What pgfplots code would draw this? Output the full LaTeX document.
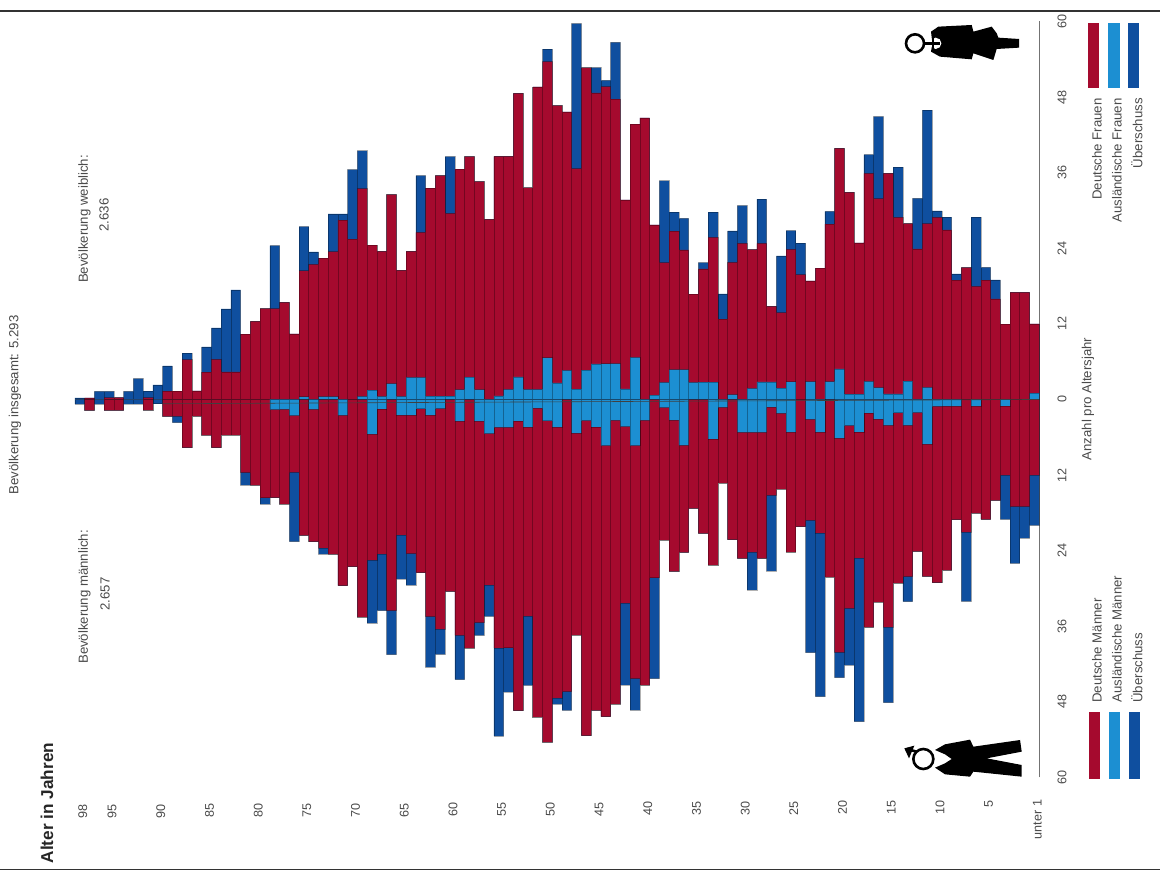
\documentclass[border=0pt]{standalone}
\usepackage{fontspec}
\setmainfont{Liberation Sans}
\usepackage{pgfplots}
\usepackage{pgfplotstable}
\pgfplotsset{compat=1.18}
\definecolor{drot}{HTML}{A50A2E}
\definecolor{hblau}{HTML}{1C8FD2}
\definecolor{dblau}{HTML}{0F4F9F}
\definecolor{schrift}{HTML}{4A4A4A}
% age, women: common part / total / foreign, men the same (negative)
\pgfplotstableread{
age wr wt wf mr mt mf
0 12 12 1 -12 -20 0
1 17 17 0 -17 -22 0
2 17 17 0 -17 -26 0
3 12 12 0 -12 -19 -1
4 16 19 0 -16 -16 0
5 19 21 0 -19 -19 0
6 18 29 0 -18 -18 -1
7 21 21 0 -21 -32 0
8 19 20 0 -19 -19 -1
9 27 29 0 -27 -27 -1
10 29 30 0 -29 -29 -1
11 28 46 2 -28 -28 -7
12 24 32 0 -24 -24 -2
13 28 28 3 -28 -32 -4
14 29 37 1 -29 -29 -2
15 36 36 1 -36 -48 -4
16 32 45 2 -32 -32 -3
17 36 39 3 -36 -36 -2
18 25 25 1 -25 -51 -5
19 33 33 1 -33 -42 -4
20 40 40 5 -40 -44 -6
21 28 30 3 -28 -28 0
22 21 21 0 -21 -47 -5
23 19 19 3 -19 -40 -3
24 20 25 0 -20 -20 0
25 24 27 3 -24 -24 -5
26 14 23 2 -14 -14 -2
27 15 15 3 -15 -27 -1
28 25 32 3 -25 -25 -5
29 24 24 2 -24 -30 -5
30 25 31 0 -25 -25 -5
31 22 27 1 -22 -22 0
32 13 17 0 -13 -13 -1
33 26 30 3 -26 -26 -6
34 21 22 3 -21 -21 0
35 17 17 3 -17 -17 0
36 24 29 5 -24 -24 -7
37 27 30 5 -27 -27 -3
38 22 35 3 -22 -22 -1
39 28 28 1 -28 -44 0
40 45 45 0 -45 -45 -3
41 44 44 7 -44 -49 -7
42 32 32 2 -32 -45 -4
43 48 57 6 -48 -48 -3
44 50 51 6 -50 -50 -7
45 49 53 6 -49 -49 -4
46 53 53 5 -53 -53 -3
47 37 60 2 -37 -37 -5
48 46 46 5 -46 -49 0
49 47 47 3 -47 -48 -4
50 54 56 7 -54 -54 -3
51 50 50 2 -50 -50 -1
52 34 34 2 -34 -45 -4
53 49 49 4 -49 -49 -3
54 39 39 2 -39 -46 -4
55 39 39 1 -39 -53 -4
56 29 29 0 -29 -34 -5
57 35 35 2 -35 -37 -3
58 39 39 4 -39 -39 0
59 37 37 2 -37 -44 -3
60 30 39 1 -30 -30 0
61 36 36 1 -36 -40 -1
62 34 34 1 -34 -42 -2
63 27 36 4 -27 -27 -1
64 24 24 4 -24 -29 -2
65 21 21 1 -21 -28 -2
66 33 33 3 -33 -40 0
67 24 24 1 -24 -33 -1
68 25 25 2 -25 -35 -5
69 34 40 1 -34 -34 0
70 26 37 0 -26 -26 0
71 29 30 0 -29 -29 -2
72 24 30 1 -24 -24 0
73 23 23 1 -23 -24 0
74 22 24 0 -22 -22 -1
75 21 28 1 -21 -21 0
76 11 11 0 -11 -22 -2
77 16 16 0 -16 -16 -1
78 15 25 0 -15 -15 -1
79 15 15 0 -15 -16 0
80 13 13 0 -13 -13 0
81 11 11 0 -11 -13 0
82 5 18 0 -5 -5 0
83 5 15 0 -5 -5 0
84 7 12 0 -7 -7 0
85 5 9 0 -5 -5 0
86 2 2 0 -2 -2 0
87 7 8 0 -7 -7 0
88 2 2 0 -2 -3 0
89 2 6 0 -2 -2 0
90 0 3 0 0 0 0
91 1 2 0 -1 -1 0
92 0 4 0 0 0 0
93 0 2 0 0 0 0
94 1 1 0 -1 -1 0
95 1 2 0 -1 -1 0
96 0 2 0 0 0 0
97 1 1 0 -1 -1 0
98 0 1 0 0 0 0
}\pyramide
\begin{document}
\begin{tikzpicture}[txt/.style={rotate=90,font=\fontsize{6.6}{8}\selectfont,text=schrift,inner sep=0pt}]
\path[use as bounding box] (0pt,0pt) rectangle (580pt,438pt);
\begin{axis}[
 anchor=origin,at={(517.2pt,238.25pt)},
 x={(-4.87pt,-0.0238pt)},y={(0pt,3.15pt)},
 xmin=-0.5,xmax=98.5,ymin=-60,ymax=60,
 axis y line*=right,axis x line*=bottom,
 x axis line style={draw=none,-},y axis line style={draw=black!55,-},
 tick align=outside,major tick length=4pt,
 x tick style={draw=none},y tick style={draw=black!55},
 xtick={0,5,10,15,20,25,30,35,40,45,50,55,60,65,70,75,80,85,90,95,98},
 xticklabels={unter 1,5,10,15,20,25,30,35,40,45,50,55,60,65,70,75,80,85,90,95,98},
 ytick={-60,-48,-36,-24,-12,0,12,24,36,48,60},
 yticklabels={60,48,36,24,12,0,12,24,36,48,60},
 xticklabel style={rotate=90,anchor=east,font=\fontsize{6.3}{8}\selectfont,text=schrift,inner sep=0pt,xshift=-7pt,yshift=-1.5pt},
 yticklabel style={rotate=90,anchor=north,font=\fontsize{6.3}{8}\selectfont,text=schrift,inner sep=0pt,yshift=-5pt},
 balken/.style={ybar,bar width=1,bar shift=0pt,draw=black,draw opacity=0.3,line width=0.3pt},
 ohnenull/.style={unbounded coords=discard,y filter/.expression={y==0?nan:y}},
 clip=false]
\addplot[balken,ohnenull,fill=dblau] table[x=age,y=wt] {\pyramide};
\addplot[balken,fill=dblau] table[x=age,y=mt] {\pyramide};
\addplot[balken,ohnenull,fill=drot] table[x=age,y=wr] {\pyramide};
\addplot[balken,ohnenull,fill=drot] table[x=age,y=mr] {\pyramide};
\addplot[balken,ohnenull,fill=hblau] table[x=age,y=wf] {\pyramide};
\addplot[balken,ohnenull,fill=hblau] table[x=age,y=mf] {\pyramide};
\addplot[black!75,line width=0.3pt,mark=none] coordinates {(89.5,0) (-0.5,0)};
\end{axis}
% everything else in reference pixels, y downwards
\begin{scope}[x=0.5pt,y=-0.5pt,yshift=438pt]
\draw[black!80,line width=0.8pt] (0,11) -- (1160,11);
\draw[black!80,line width=0.8pt] (0,869.5) -- (1160,869.5);
\node[txt] at (15,405) {Bevölkerung insgesamt: 5.293};
\node[txt] at (84.5,219) {Bevölkerung weiblich:};
\node[txt] at (104,215) {2.636};
\node[txt] at (84.5,597) {Bevölkerung männlich:};
\node[txt] at (105,594) {2.657};
\node[rotate=90,font=\fontsize{8.6}{10}\bfseries,text=black!85,inner sep=0pt] at (47,803) {Alter in Jahren};
\node[txt] at (1088,399) {Anzahl pro Altersjahr};
% legend swatches and texts
\fill[drot] (1089,712) rectangle (1100,779);
\fill[hblau] (1108.5,712) rectangle (1120,779);
\fill[dblau] (1129,712) rectangle (1140,779);
\fill[drot] (1088,23) rectangle (1099,88);
\fill[hblau] (1108,23) rectangle (1119.5,88);
\fill[dblau] (1128,23) rectangle (1139,88);
\node[txt,anchor=west] at (1097,703) {Deutsche Männer};
\node[txt,anchor=west] at (1117,703) {Ausländische Männer};
\node[txt,anchor=west] at (1137,703) {Überschuss};
\node[txt,anchor=east] at (1097,98) {Deutsche Frauen};
\node[txt,anchor=east] at (1117,98) {Ausländische Frauen};
\node[txt,anchor=east] at (1137,98) {Überschuss};
\end{scope}
% woman figure, in zoomed pixels of her crop
\begin{scope}[shift={(447.5pt,430.5pt)},x=0.1667pt,y=-0.1667pt]
\fill[black] (108,50) -- (130,35) -- (230,30) -- (235,50) -- (290,35) -- (305,55) -- (310,68) -- (372,72) -- (372,98) -- (305,102) -- (295,135) -- (235,115) -- (230,133) -- (135,125) -- (108,110) -- (112,85) -- cycle;
\fill[white] (122,85) circle (17);
\draw[black,line width=1.3pt] (60,85) circle (27);
\draw[black,line width=1.3pt] (87,85) -- (135,85);
\draw[black,line width=1.1pt] (115,66) -- (115,104);
\end{scope}
% man figure
\begin{scope}[shift={(447.5pt,70.5pt)},x=0.1667pt,y=-0.1667pt]
\fill[black] (120,45) -- (150,28) -- (225,14) -- (235,35) -- (375,15) -- (380,50) -- (275,70) -- (380,90) -- (380,125) -- (235,110) -- (225,125) -- (150,118) -- (120,98) -- (150,85) -- (170,72) -- (150,58) -- cycle;
\draw[black,line width=1.3pt] (85,72) circle (30);
\draw[black,line width=1.3pt] (65,50) -- (35,42);
\fill[black] (28,40) -- (58,32) -- (42,70) -- cycle;
\end{scope}
\end{tikzpicture}
\end{document}
